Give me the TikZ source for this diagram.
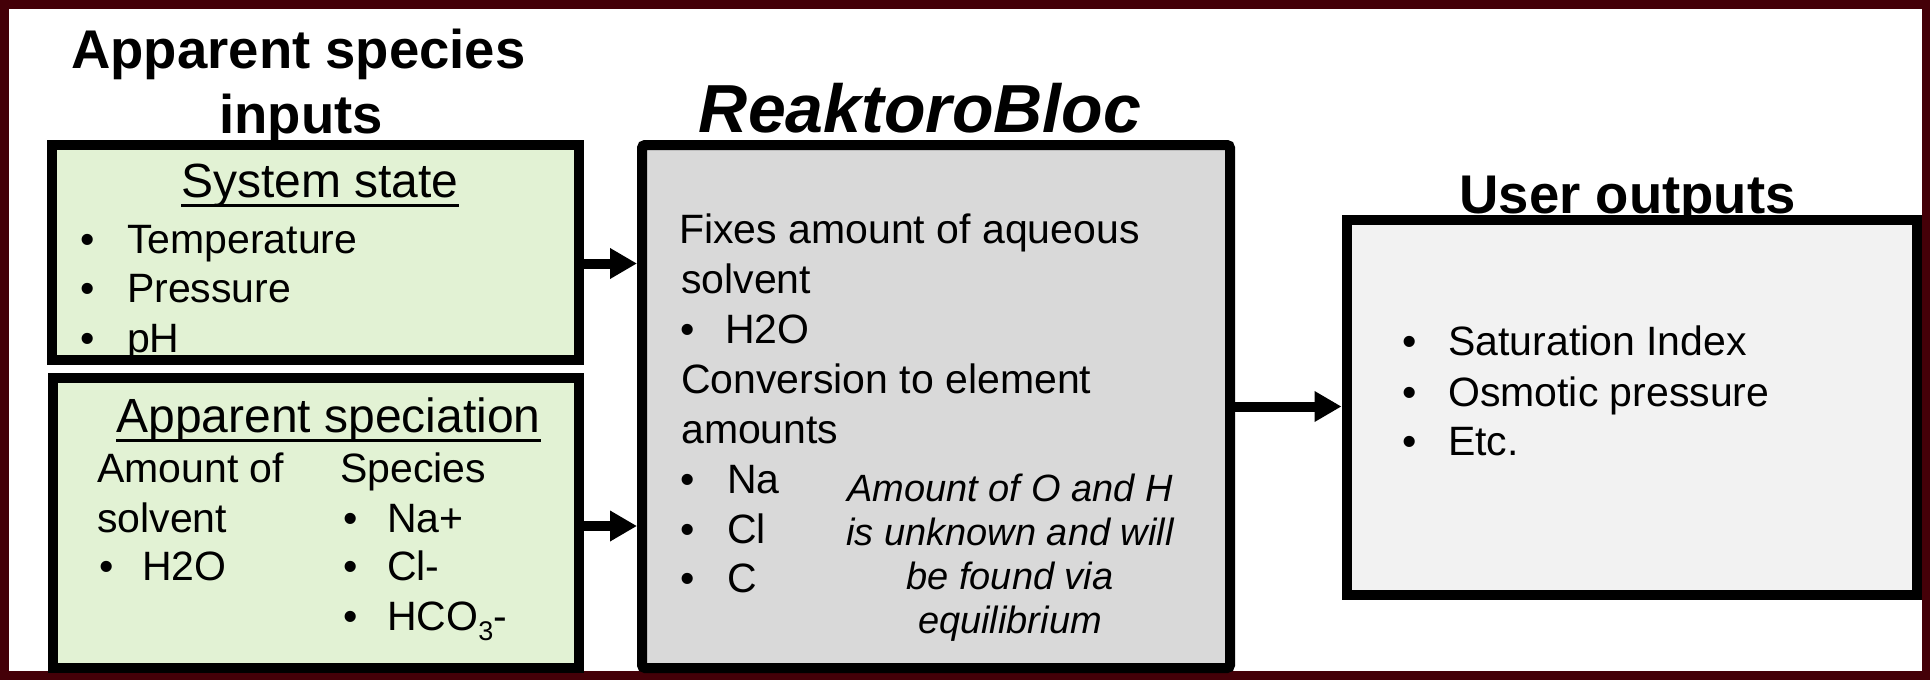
\documentclass[tikz,border=0pt]{standalone}
\usepackage{fontspec}
\setmainfont{Liberation Sans}
\usetikzlibrary{arrows.meta}
\definecolor{maroonc}{RGB}{68,0,8}
\definecolor{greenfill}{RGB}{226,242,212}
\definecolor{grayfill}{RGB}{217,217,217}
\definecolor{lightfill}{RGB}{242,242,242}
\newcommand\myul[1]{\setbox0\hbox{#1}\rlap{\rule[-9.5pt]{\wd0}{3pt}}\box0}
\tikzset{
  boxstyle/.style={draw=black, line width=10pt, inner sep=0pt},
  bodytext/.style={inner sep=0pt, font=\fontsize{41}{49}\selectfont, anchor=base west},
  bul/.style={inner sep=0pt, font=\fontsize{41}{49}\selectfont, anchor=base},
  italtext/.style={inner sep=0pt, font=\fontsize{38}{44}\selectfont\itshape, anchor=base},
  headtext/.style={inner sep=0pt, font=\fontsize{48}{56}\selectfont, anchor=base},
  titletext/.style={inner sep=0pt, font=\fontsize{54.5}{62}\selectfont\bfseries, anchor=base},
  conn/.style={line width=10pt, -{Triangle[length=27pt,width=29pt]}},
}
\begin{document}
\begin{tikzpicture}[x=1pt,y=-1pt]
\useasboundingbox (0,0) rectangle (1930,680);
\fill[white] (0,0) rectangle (1930,680);
\draw[line width=9pt, maroonc] (4,4.5) rectangle (1926,675.5);

% boxes
\node[boxstyle, fill=greenfill, minimum width=527pt, minimum height=215pt] (box1) at (315.5,252.5) {};
\node[boxstyle, fill=greenfill, minimum width=526pt, minimum height=290pt] (box2) at (316,523) {};
\node[boxstyle, fill=grayfill, rounded corners=3pt, minimum width=588pt, minimum height=523pt] (gray) at (936,406.5) {};
\node[boxstyle, fill=lightfill, minimum width=570.5pt, minimum height=375pt] (outbox) at (1631.75,407.5) {};

% titles
\node[titletext] (t1) at (298.5,68) {Apparent species};
\node[titletext] (t2) at (301,133) {inputs};
\node[inner sep=0pt, anchor=base, font=\fontsize{68}{76}\selectfont\bfseries\itshape] (t3) at (920,132) {ReaktoroBloc};
\node[titletext] (t4) at (1627.5,213) {User outputs};

% box 1
\node[headtext] (h1) at (320,197) {\myul{System state}};
\node[bul] (b11) at (88,253) {•};
\node[bul] (b12) at (88,302) {•};
\node[bul] (b13) at (88,352) {•};
\node[bodytext] (s11) at (127,253) {Temperature};
\node[bodytext] (s12) at (127,302) {Pressure};
\node[bodytext] (s13) at (127,352) {pH};

% box 2
\node[headtext] (h2) at (328.5,432) {\myul{Apparent speciation}};
\node[bodytext] (a1) at (97,482) {Amount of};
\node[bodytext] (a2) at (97,532) {solvent};
\node[bul] (b21) at (107,580) {•};
\node[bodytext] (a3) at (142,580) {H2O};
\node[bodytext] (sp) at (340,482) {Species};
\node[bul] (b22) at (351,532) {•};
\node[bul] (b23) at (351,580) {•};
\node[bul] (b24) at (351,630) {•};
\node[bodytext] (sp1) at (387,532) {Na+};
\node[bodytext] (sp2) at (387,580) {Cl-};
\node[bodytext] (sp3) at (387,630) {HCO\raisebox{-0.25em}{\fontsize{27}{27}\selectfont 3}-};

% gray box
\node[bodytext] (g1) at (679,243) {Fixes amount of aqueous};
\node[bodytext] (g2) at (681,293) {solvent};
\node[bul] (b31) at (688,343) {•};
\node[bodytext] (g3) at (725,343) {H2O};
\node[bodytext] (g4) at (681,393) {Conversion to element};
\node[bodytext] (g5) at (681,443) {amounts};
\node[bul] (b32) at (688,493) {•};
\node[bul] (b33) at (688,543) {•};
\node[bul] (b34) at (688,592) {•};
\node[bodytext] (g6) at (727,493) {Na};
\node[bodytext] (g7) at (727,543) {Cl};
\node[bodytext] (g8) at (727,592) {C};
\node[italtext] (i1) at (1010,501) {Amount of O and H};
\node[italtext] (i2) at (1010,545) {is unknown and will};
\node[italtext] (i3) at (1010,589) {be found via};
\node[italtext] (i4) at (1010,633) {equilibrium};

% output box
\node[bul] (b41) at (1409.5,355) {•};
\node[bul] (b42) at (1409.5,406) {•};
\node[bul] (b43) at (1409.5,455) {•};
\node[bodytext] (o1) at (1448,355) {Saturation Index};
\node[bodytext] (o2) at (1448,406) {Osmotic pressure};
\node[bodytext] (o3) at (1448,455) {Etc.};

% connectors
\draw[conn] ([yshift=-11pt]box1.east) -- ([yshift=-11pt]box1.east -| gray.west);
\draw[conn] ([yshift=-3pt]box2.east) -- ([yshift=-3pt]box2.east -| gray.west);
\draw[conn] (gray.east) -- (gray.east -| outbox.west);
\end{tikzpicture}
\end{document}
